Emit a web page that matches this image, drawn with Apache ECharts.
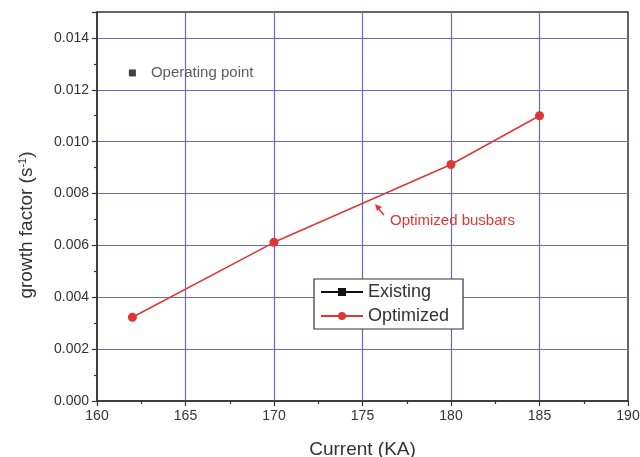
<!DOCTYPE html>
<html><head><meta charset="utf-8">
<script src="https://cdn.jsdelivr.net/npm/echarts@6/dist/echarts.min.js"></script>
<style>html,body{margin:0;padding:0;background:#fff}#c{width:640px;height:457px}</style>
</head><body><div id="c"></div>
<script>
const currents = [162, 170, 180, 185];
const optimized = [0.00323, 0.00612, 0.00912, 0.0110];
const existing = [];
const operatingPoint = [[162, 0.01265]];
const yTickLabels = ['0.000','0.002','0.004','0.006','0.008','0.010','0.012','0.014'];

const chart = echarts.init(document.getElementById('c'));
const FONT = 'Liberation Sans';
const TXT = '#333';
const axisCommon = {
  axisLine: {show: true, onZero: false, lineStyle: {color: '#333', width: 1.5}},
  axisTick: {show: true, inside: false, length: 5, lineStyle: {color: '#333', width: 1.2}},
  minorTick: {show: true, splitNumber: 2, length: 3, lineStyle: {color: '#333', width: 1.2}},
  splitLine: {show: true, showMinLine: false, showMaxLine: false, lineStyle: {color: '#6a6ac4', width: 1.2}}
};
chart.setOption({
  animation: false,
  backgroundColor: '#fff',
  grid: {left: 97, right: 12, top: 12, bottom: 56, outerBoundsMode: 'none', containLabel: false,
         show: true, borderColor: '#333', borderWidth: 1.5, backgroundColor: 'transparent'},
  xAxis: Object.assign({
    type: 'value', min: 160, max: 190, interval: 5,
    name: 'Current (KA)', nameLocation: 'middle', nameGap: 39,
    nameTextStyle: {fontFamily: FONT, fontSize: 19, color: TXT},
    axisLabel: {fontFamily: FONT, fontSize: 14, color: TXT, margin: 8}
  }, axisCommon),
  yAxis: Object.assign({
    type: 'value', min: 0, max: 0.015, interval: 0.002,
    axisLabel: {fontFamily: FONT, fontSize: 14, color: TXT, margin: 8,
      formatter: function (v) {
        const i = Math.round(v / 0.002);
        if (Math.abs(v - i * 0.002) > 1e-9) return '';
        return yTickLabels[i] !== undefined ? yTickLabels[i] : '';
      }}
  }, axisCommon),
  legend: {
    data: ['Existing', 'Optimized'], orient: 'vertical',
    left: 314, top: 279, itemWidth: 42, itemHeight: 10, itemGap: 6,
    padding: [4, 14, 4, 6],
    borderColor: '#333', borderWidth: 1.2, backgroundColor: '#fff',
    textStyle: {fontFamily: FONT, fontSize: 18, color: TXT}
  },
  series: [
    {name: 'Existing', type: 'line', data: existing, color: '#111',
     symbol: 'rect', symbolSize: 7, lineStyle: {color: '#111', width: 1.2}},
    {name: 'Optimized', type: 'line', data: currents.map((c, i) => [c, optimized[i]]),
     color: '#e03535', symbol: 'circle', symbolSize: 9,
     lineStyle: {color: '#e03535', width: 1.5}, itemStyle: {color: '#e03535'}},
    {name: 'Operating point', type: 'scatter', data: operatingPoint,
     symbol: 'rect', symbolSize: 7, itemStyle: {color: '#111'},
     label: {show: true, position: 'right', distance: 15, formatter: 'Operating point',
       fontFamily: FONT, fontSize: 15, color: TXT}}
  ]
});
chart.setOption({
  graphic: [
    {type: 'text', x: 27, y: 225, rotation: Math.PI / 2,
     style: {text: 'growth factor (s{sup|-1})', fontFamily: FONT, fontSize: 19, fill: TXT,
       align: 'center', verticalAlign: 'middle',
       rich: {sup: {fontFamily: FONT, fontSize: 11, fill: TXT, verticalAlign: 'top', padding: [0, 0, 9, 0]}}}},
    {type: 'text', left: 390, top: 213,
     style: {text: 'Optimized busbars', font: '15px "Liberation Sans"', fill: '#e03535'}},
    {type: 'line', shape: {x1: 384, y1: 215, x2: 377, y2: 207},
     style: {stroke: '#e03535', lineWidth: 1.5}},
    {type: 'polygon', shape: {points: [[375, 204], [382, 207], [377, 211]]},
     style: {fill: '#e03535'}}
  ]
});
</script></body></html>
